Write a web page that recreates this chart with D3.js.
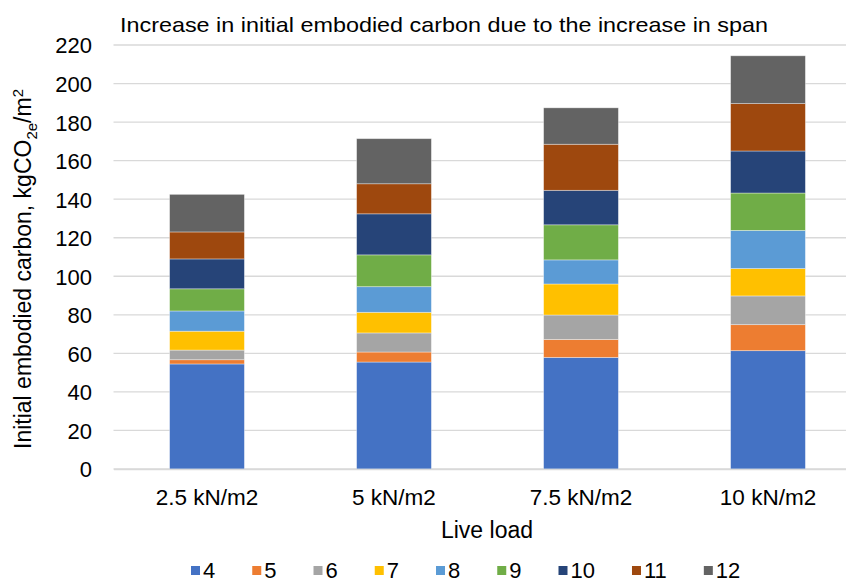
<!DOCTYPE html>
<html><head><meta charset="utf-8">
<script src="https://cdn.jsdelivr.net/npm/d3@7"></script>
<style>body{margin:0;background:#fff}svg{display:block}text{font-family:"Liberation Sans",Arial,sans-serif;fill:#000}</style>
</head><body><svg id="c" width="846" height="583"></svg>
<script>
const categories = ["2.5 kN/m2","5 kN/m2","7.5 kN/m2","10 kN/m2"];
const seriesNames = ["4","5","6","7","8","9","10","11","12"];
const colors = ["#4472C4","#ED7D31","#A5A5A5","#FFC000","#5B9BD5","#70AD47","#264478","#9E480E","#636363"];
const s4  = [54.5, 55.5, 57.9, 61.4];
const s5  = [2.2, 5.2, 9.3, 13.5];
const s6  = [5.0, 9.9, 12.7, 14.9];
const s7  = [9.8, 10.7, 16.1, 14.2];
const s8  = [10.5, 13.3, 12.5, 19.8];
const s9  = [11.5, 16.5, 18.2, 19.4];
const s10 = [15.5, 21.3, 17.9, 21.8];
const s11 = [14.0, 15.6, 23.9, 24.6];
const s12 = [19.5, 23.4, 18.9, 24.8];
const yTicks = [0,20,40,60,80,100,120,140,160,180,200,220];
const seriesVals = [s4,s5,s6,s7,s8,s9,s10,s11,s12];

const svg = d3.select("#c");
const x0 = 113.5, x1 = 861.5, yTop = 45, yBot = 469;
const x = d3.scaleBand().domain(categories).range([x0,x1]).paddingInner(0.6).paddingOuter(0.3);
const y = d3.scaleLinear().domain([0,220]).range([yBot,yTop]);
const FF = "'Liberation Sans',Arial,sans-serif";

// gridlines
svg.append("g").selectAll("line").data(yTicks).join("line")
  .attr("x1",x0).attr("x2",846).attr("y1",d=>y(d)).attr("y2",d=>y(d))
  .attr("stroke","#d9d9d9").attr("stroke-width",1.3);

// y axis labels
const ya = svg.append("g").attr("transform",`translate(${x0},0)`)
  .call(d3.axisLeft(y).tickValues(yTicks).tickSize(0).tickPadding(21.5));
ya.select(".domain").remove();
ya.selectAll("text").style("font-size","22px").style("font-family",FF).attr("fill","#000").attr("dy","0.36em");

// stacks
const rows = categories.map((c,i)=>{const o={cat:c}; seriesNames.forEach((s,j)=>o[s]=seriesVals[j][i]); return o;});
const stack = d3.stack().keys(seriesNames)(rows);
svg.append("g").selectAll("g").data(stack).join("g").attr("fill",(d,i)=>colors[i])
  .selectAll("rect").data(d=>d).join("rect")
  .attr("x",d=>x(d.data.cat)).attr("width",x.bandwidth())
  .attr("y",d=>y(d[1])).attr("height",d=>y(d[0])-y(d[1]))
  .attr("stroke","#ffffff").attr("stroke-opacity",0.45).attr("stroke-width",0.8);

// x axis
const xa = svg.append("g").attr("transform",`translate(0,${yBot})`)
  .call(d3.axisBottom(x).tickSize(0).tickPadding(0));
xa.select(".domain").attr("stroke","#d9d9d9").attr("stroke-width",1.3);
xa.selectAll("text").style("font-size","22.5px").style("font-family",FF).attr("fill","#000").attr("dy",null).attr("y",36);

// title
svg.append("text").attr("x",120).attr("y",32).style("font-size","21px")
  .attr("textLength",648).attr("lengthAdjust","spacingAndGlyphs")
  .text("Increase in initial embodied carbon due to the increase in span");

// x title
svg.append("text").attr("x",487).attr("y",538).attr("text-anchor","middle").style("font-size","23px").text("Live load");

// y title
const yt = svg.append("text").attr("transform","translate(31,269) rotate(-90)").attr("text-anchor","middle").style("font-size","23px");
yt.append("tspan").text("Initial embodied carbon, kgCO");
yt.append("tspan").attr("dy",6).style("font-size","15px").text("2e");
yt.append("tspan").attr("dy",-6).text("/m");
yt.append("tspan").attr("dy",-8).style("font-size","15px").text("2");

// legend
const lg = svg.append("g");
let lx = 191;
seriesNames.forEach((s,i)=>{
  lg.append("rect").attr("x",lx).attr("y",566).attr("width",9).attr("height",9).attr("fill",colors[i]);
  const t = lg.append("text").attr("x",lx+12).attr("y",578).style("font-size","22px").text(s);
  const w = t.node().getComputedTextLength();
  lx += 12 + w + 37;
});
</script></body></html>
